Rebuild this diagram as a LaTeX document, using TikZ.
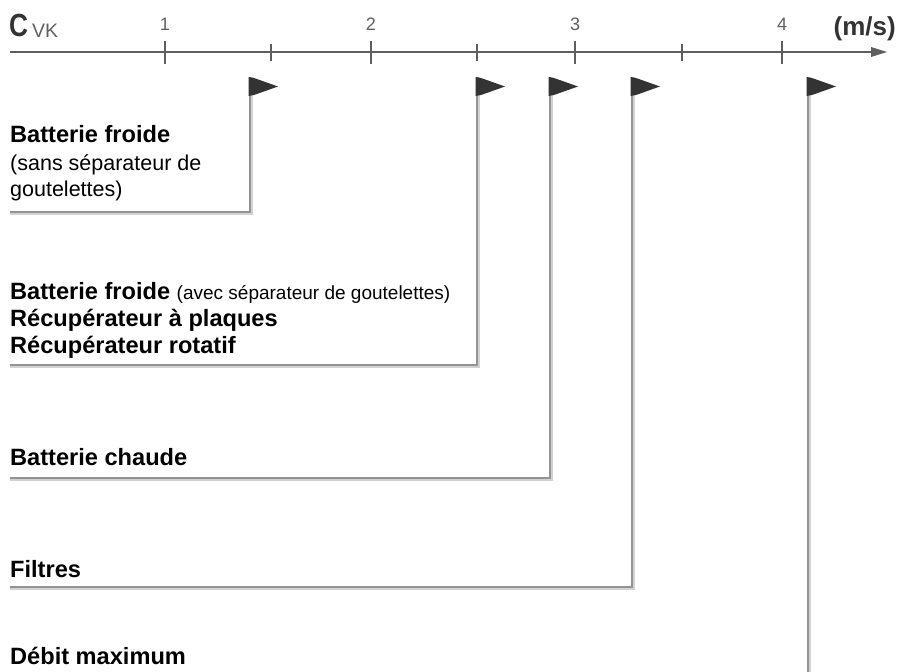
\documentclass[tikz,border=0pt]{standalone}
\usepackage{fontspec}
\setmainfont{Liberation Sans}
\begin{document}
\begin{tikzpicture}[x=1pt,y=-1pt,
  axisline/.style={draw=axgrey,line width=2pt},
  majortick/.style={draw=axgrey,line width=1.8pt},
  num/.style={anchor=base,inner sep=0pt,text=numgrey,font=\fontsize{18}{20}\selectfont},
  lbl/.style={anchor=base west,inner sep=0pt,font=\fontsize{23.6}{27}\selectfont\bfseries},
  sub/.style={anchor=base west,inner sep=0pt,font=\fontsize{21.5}{26}\selectfont},
  poleshadow/.style={draw=shadowgrey,line width=2.2pt},
  pole/.style={draw=polegrey,line width=2.4pt},
  flagfill/.style={fill=flagdark,draw=none}]
\definecolor{axgrey}{HTML}{5E5E5E}
\definecolor{numgrey}{HTML}{606060}
\definecolor{shadowgrey}{HTML}{D2D2D2}
\definecolor{polegrey}{HTML}{939393}
\definecolor{flagdark}{HTML}{333333}
\useasboundingbox[fill=white] (0,0) rectangle (897,672);

% axis
\coordinate (ax0) at (10,52);
\coordinate (ax1) at (873,52);
\draw[axisline] (ax0) -- (ax1);
\fill[axgrey] (871,47) -- (887,52) -- (871,57) -- cycle;
\foreach \x/\n in {165/1,371/2,575/3,782/4}{
  \draw[majortick] (\x,41) -- (\x,64);
  \node[num] (n\n) at (\x,30) {\n};
}
\foreach \x in {271,477,682}{
  \draw[majortick] (\x,44) -- (\x,61);
}
\node[anchor=base west,inner sep=0pt,text=flagdark,font=\fontsize{32}{34}\selectfont\bfseries,xscale=0.82] (C) at (9,36) {C};
\node[anchor=base west,inner sep=0pt,text=numgrey,font=\fontsize{19.5}{22}\selectfont] (VK) at (32,37) {VK};
\node[anchor=base east,inner sep=0pt,text=flagdark,font=\fontsize{26}{28}\selectfont\bfseries] (unit) at (896,35) {(m/s)};

% flag poles and connectors
\foreach \i/\x/\y in {1/250/212,2/477/365,3/550/478,4/632/587}{
  \coordinate (f\i) at (\x,77);
  \coordinate (c\i) at (10,\y);
  \draw[poleshadow] ([xshift=2pt]f\i) |- ([yshift=-2pt]c\i);
  \draw[pole] (f\i) |- (c\i);
}
\coordinate (f5) at (808,77);
\coordinate (c5) at (808,672);
\draw[poleshadow] ([xshift=2pt]f5) -- ([xshift=2pt]c5);
\draw[pole] (f5) -- (c5);

% flags
\foreach \x in {250,477,550,632,808}{
  \fill[flagdark] (\x-1.5,77) -- (\x+4,78) .. controls (\x+16,82) .. (\x+28,86.5)
     .. controls (\x+16,91) .. (\x+4,95) -- (\x-1.5,96) -- cycle;
}

% labels
\node[lbl] (t1) at (10,142) {Batterie froide};
\node[sub] (t1b) at (10,170) {(sans séparateur de};
\node[sub] (t1c) at (10,196) {goutelettes)};

\node[lbl] (t2) at (10,299) {Batterie froide {\mdseries\fontsize{19}{22}\selectfont (avec séparateur de goutelettes)}};
\node[lbl] (t2b) at (10,326) {Récupérateur à plaques};
\node[lbl] (t2c) at (10,353) {Récupérateur rotatif};

\node[lbl] (t3) at (10,465) {Batterie chaude};
\node[lbl] (t4) at (10,577) {Filtres};
\node[lbl] (t5) at (10,664) {Débit maximum};
\end{tikzpicture}
\end{document}
